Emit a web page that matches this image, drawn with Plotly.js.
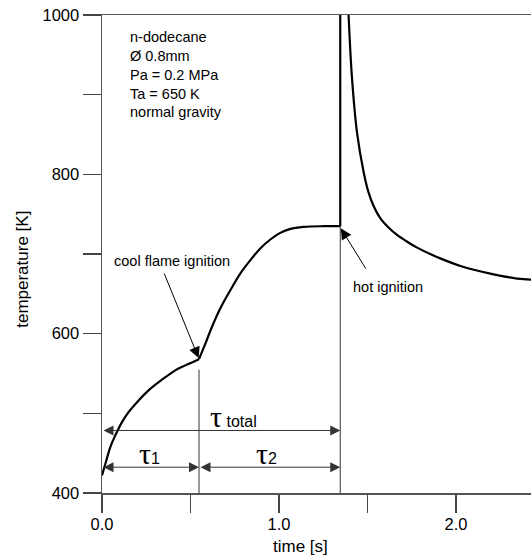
<!DOCTYPE html>
<html>
<head>
<meta charset="utf-8">
<script src="https://cdn.plot.ly/plotly-3.0.1.min.js"></script>
<style>html,body{margin:0;padding:0;background:#fff;}#chart{width:531px;height:559px;}</style>
</head>
<body>
<div id="chart"></div>
<script>
// --- data ---
// heating phase up to cool flame ignition
const timeHeat = [0.000, 0.019, 0.047, 0.075, 0.113, 0.150, 0.207, 0.263, 0.339, 0.414, 0.471, 0.548];
const tempHeat = [422, 436.7, 457.6, 472.3, 489, 501.5, 516.2, 528.8, 542.2, 553.9, 560.2, 568];
// second stage after cool flame up to hot ignition
const timeSecond = [0.548, 0.584, 0.621, 0.668, 0.725, 0.781, 0.838, 0.894, 0.951, 1.007, 1.064, 1.139, 1.252, 1.346];
const tempSecond = [568, 587.5, 608.3, 631.5, 654.5, 675.4, 692.2, 706.9, 718.2, 726.5, 731.5, 734, 734.9, 734.9];
// temperature jump at hot ignition
const timeJump = [1.346, 1.346];
const tempJump = [734.9, 1010];
// decay after hot ignition
const timeDecay = [1.391, 1.393, 1.412, 1.441, 1.478, 1.505, 1.535, 1.572, 1.620, 1.667, 1.720, 1.780, 1.911, 2.043, 2.194, 2.345, 2.425];
const tempDecay = [1010, 1000, 922, 852, 803, 778, 760, 745, 733, 724, 716, 708, 694.5, 683.7, 675.4, 669.2, 667.9];
// event times and delay arrows
const tCoolFlame = 0.548;
const tHotIgnition = 1.346;
const tempCoolMarkTop = 554.8;
const tempHotMarkTop = 734.9;
const levelTotal = 478.5;
const levelParts = 432.4;
const xTickVals = [0, 1, 2];
const xTickText = ['0.0', '1.0', '2.0'];
const yTickVals = [400, 600, 800, 1000];
const yTickText = ['400', '600', '800', '1000'];
const infoLines = ['n-dodecane', 'Ø 0.8mm', 'Pa = 0.2 MPa', 'Ta = 650 K', 'normal gravity'];

const SANS = 'Liberation Sans, Arial, sans-serif';
const SERIF = 'Liberation Serif, Times New Roman, serif';
const curveLine = {color: '#000', width: 2.2};
const smoothLine = Object.assign({shape: 'spline', smoothing: 1}, curveLine);

const traces = [
  {x: timeHeat, y: tempHeat, mode: 'lines', line: smoothLine, hoverinfo: 'skip'},
  {x: timeSecond, y: tempSecond, mode: 'lines', line: smoothLine, hoverinfo: 'skip'},
  {x: timeJump, y: tempJump, mode: 'lines', line: curveLine, hoverinfo: 'skip'},
  {x: timeDecay, y: tempDecay, mode: 'lines', line: smoothLine, hoverinfo: 'skip'}
];

function dblArrow(x0, x1, y) {
  return {x: x1, y: y, ax: x0, ay: y, xref: 'x', yref: 'y', axref: 'x', ayref: 'y',
    text: '', showarrow: true, arrowside: 'end+start', arrowhead: 2, startarrowhead: 2,
    arrowsize: 2, startarrowsize: 2, arrowwidth: 1, arrowcolor: '#333', standoff: 0, startstandoff: 0};
}
function tau(sub, extra) {
  return '<span style="font-family:' + SERIF + ';font-size:30px">τ</span>' + (extra || '') + sub;
}

const annotations = [
  dblArrow(0, tHotIgnition, levelTotal),
  dblArrow(0, tCoolFlame, levelParts),
  dblArrow(tCoolFlame, tHotIgnition, levelParts),
  {xref: 'paper', yref: 'paper', x: 0.0606, y: 0.975, xanchor: 'left', yanchor: 'top', align: 'left',
   showarrow: false, text: infoLines.join('<br>'), font: {family: SANS, size: 14.5, color: '#000'}},
  {xref: 'paper', yref: 'paper', x: 0.024, y: 0.486, xanchor: 'left', yanchor: 'middle', showarrow: false,
   text: 'cool flame ignition', font: {family: SANS, size: 14.5, color: '#000'}},
  {xref: 'paper', yref: 'paper', x: 0.580, y: 0.4316, xanchor: 'left', yanchor: 'middle', showarrow: false,
   text: 'hot ignition', font: {family: SANS, size: 14.5, color: '#000'}},
  {x: 0.546, y: 569.4, xref: 'x', yref: 'y', text: '', showarrow: true, arrowhead: 2, arrowsize: 2.2,
   arrowwidth: 1, arrowcolor: '#000', ax: -35, ay: -86, standoff: 0},
  {x: 1.349, y: 732.4, xref: 'x', yref: 'y', text: '', showarrow: true, arrowhead: 2, arrowsize: 2.2,
   arrowwidth: 1, arrowcolor: '#000', ax: 26, ay: 42, standoff: 0},
  {x: 0.745, y: levelTotal, xref: 'x', yref: 'y', yanchor: 'bottom', xanchor: 'center', yshift: -5, showarrow: false,
   text: tau('total', ' '), font: {family: SANS, size: 16, color: '#000'}},
  {x: 0.27, y: levelParts, xref: 'x', yref: 'y', yanchor: 'bottom', xanchor: 'center', yshift: -5, showarrow: false,
   text: tau('1'), font: {family: SANS, size: 16, color: '#000'}},
  {x: 0.93, y: levelParts, xref: 'x', yref: 'y', yanchor: 'bottom', xanchor: 'center', yshift: -5, showarrow: false,
   text: tau('2'), font: {family: SANS, size: 16, color: '#000'}},
  {xref: 'paper', yref: 'paper', x: -0.187, y: 0.4686, xanchor: 'center', yanchor: 'middle', textangle: -90,
   showarrow: false, text: 'temperature [K]', font: {family: SANS, size: 17, color: '#000'}},
  {xref: 'x', yref: 'paper', x: 1.124, y: -0.112, xanchor: 'center', yanchor: 'middle',
   showarrow: false, text: 'time [s]', font: {family: SANS, size: 17, color: '#000'}}
];

const shapes = [
  {type: 'line', xref: 'x', yref: 'y', x0: tCoolFlame, x1: tCoolFlame, y0: 400, y1: tempCoolMarkTop, line: {color: '#333', width: 1}},
  {type: 'line', xref: 'x', yref: 'y', x0: tHotIgnition, x1: tHotIgnition, y0: 400, y1: tempHotMarkTop, line: {color: '#333', width: 1}}
];

const axisCommon = {showgrid: false, zeroline: false, showline: true, linecolor: '#555', linewidth: 1.5,
  ticks: 'outside', ticklen: 18, tickwidth: 1.3, tickcolor: '#444',
  tickfont: {family: SANS, size: 16.5, color: '#000'}};

const layout = {
  width: 531, height: 559,
  margin: {l: 102, r: 0, t: 15, b: 66, pad: 0},
  paper_bgcolor: '#fff', plot_bgcolor: '#fff',
  showlegend: false,
  xaxis: Object.assign({}, axisCommon, {range: [0, 2.4237], tickmode: 'array', tickvals: xTickVals, ticktext: xTickText,
    mirror: true, ticklabelstandoff: -2,
    minor: {dtick: 0.5, tick0: 0, ticks: 'outside', ticklen: 18, tickwidth: 1.3, tickcolor: '#444', showgrid: false}}),
  yaxis: Object.assign({}, axisCommon, {range: [400, 1000], tickmode: 'array', tickvals: yTickVals, ticktext: yTickText,
    minor: {dtick: 100, tick0: 400, ticks: 'outside', ticklen: 18, tickwidth: 1.3, tickcolor: '#444', showgrid: false}}),
  annotations: annotations,
  shapes: shapes
};

Plotly.newPlot('chart', traces, layout, {staticPlot: true, displayModeBar: false});
</script>
</body>
</html>
